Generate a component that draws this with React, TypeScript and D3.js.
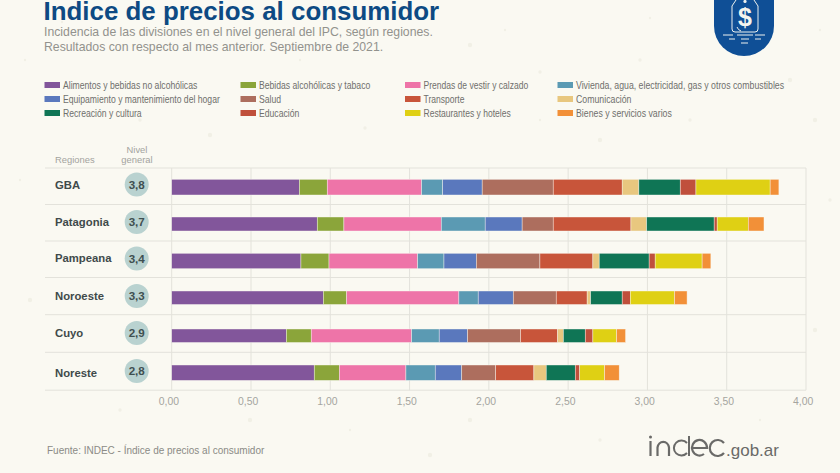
import React from "react";
import * as d3 from "d3";

const regions = ["GBA", "Patagonia", "Pampeana", "Noroeste", "Cuyo", "Noreste"];
const levels = ["3,8", "3,7", "3,4", "3,3", "2,9", "2,8"];
const categories = [
  "Alimentos y bebidas no alcohólicas", "Bebidas alcohólicas y tabaco", "Prendas de vestir y calzado", "Vivienda, agua, electricidad, gas y otros combustibles",
  "Equipamiento y mantenimiento del hogar", "Salud", "Transporte", "Comunicación",
  "Recreación y cultura", "Educación", "Restaurantes y hoteles", "Bienes y servicios varios",
];
const colors = ["#82569b", "#8ba53a", "#ee74a8", "#5b9ab3", "#5a78bd", "#ad6e5e", "#c8553a", "#e8c77f", "#0f7555", "#c0503c", "#dfd014", "#f29038"];
const barOrder = [0, 1, 2, 3, 4, 5, 6, 7, 8, 9, 10, 11];
const gba = [0.805, 0.176, 0.595, 0.133, 0.249, 0.448, 0.435, 0.105, 0.261, 0.099, 0.468, 0.055];
const patagonia = [0.918, 0.168, 0.614, 0.277, 0.233, 0.196, 0.49, 0.099, 0.426, 0.019, 0.196, 0.099];
const pampeana = [0.815, 0.177, 0.559, 0.166, 0.204, 0.401, 0.334, 0.04, 0.315, 0.038, 0.296, 0.055];
const noroeste = [0.956, 0.147, 0.708, 0.122, 0.221, 0.271, 0.195, 0.022, 0.199, 0.051, 0.279, 0.079];
const cuyo = [0.723, 0.157, 0.633, 0.174, 0.179, 0.334, 0.234, 0.036, 0.138, 0.048, 0.15, 0.056];
const noreste = [0.899, 0.158, 0.42, 0.185, 0.167, 0.214, 0.241, 0.078, 0.183, 0.028, 0.157, 0.092];
const regionValues = [gba, patagonia, pampeana, noroeste, cuyo, noreste];
const ticks = [0, 0.5, 1, 1.5, 2, 2.5, 3, 3.5, 4];
const specks = [[62,22],[140,120],[210,135],[300,60],[365,128],[470,45],[505,30],[540,72],[600,140],[650,18],[690,120],[790,80],[820,30],[830,200],[815,330],[760,420],[600,440],[470,420],[350,430],[120,410],[30,300],[20,180],[95,445],[250,420],[540,120],[640,60],[815,120],[25,60],[180,450],[430,455]];

const W = 840, H = 473;
const x = d3.scaleLinear().domain([0, 4]).range([171.7, 806]);
const rowEdges = [168, 204.5, 241, 277.5, 314.7, 352.3, 390.2];
const barTops = [179.3, 217, 253.3, 291, 329, 365];
const barHeights = [15.7, 14, 15.4, 13.5, 13.5, 15.4];
const circleY = [184.5, 222, 258.5, 296, 333, 371];
const labelY = [185, 222, 258, 296, 333, 372.7];
const sans = "'Liberation Sans', Arial, sans-serif";
const legendCols = [44.5, 240.5, 405, 557.5];
const legendScale = [0.815, 0.815, 0.805, 0.826];

const table = regionValues.map((v) => Object.fromEntries(v.map((d, i) => [String(i), d])));
const series = d3.stack<any>().keys(barOrder.map(String))(table);

export default function App() {
  return (
    <svg width={W} height={H} viewBox={`0 0 ${W} ${H}`} style={{ position: "absolute", left: 0, top: 0, background: "#faf9f2" }}>
      {specks.map(([a, b], i) => (
        <circle key={i} cx={a} cy={b} r={1.2 + (i % 3) * 0.5} fill="#f1f0e6" />
      ))}
      <text x={43.5} y={19.5} fontFamily={sans} fontWeight={700} fontSize={25.9} fill="#0d4a83">Indice de precios al consumidor</text>
      <text x={44} y={36} fontFamily={sans} fontSize={12.25} fill="#92928d">Incidencia de las divisiones en el nivel general del IPC, según regiones.</text>
      <text x={44} y={51} fontFamily={sans} fontSize={12.25} fill="#92928d">Resultados con respecto al mes anterior. Septiembre de 2021.</text>

      {/* icon */}
      <path d="M714,0 H774 V26 A30,30 0 0 1 714,26 Z" fill="#0f4f96" />
      <g fill="none" stroke="#eef1ee" strokeWidth={1}>
        <path d="M736,0 L732,6 V29 Q732,32 735,32 H755 Q758,32 758,29 V6 L754,0" />
        <path d="M723,35 H733 M737,35 H753 M755,35 H765 M729,39 H735 M741,39 H749 M755,39 H761 M741,43 H748" />
        <path d="M737,27 Q738,30 741,31" />
        <circle cx={745} cy={1.5} r={1.6} fill="#eef1ee" stroke="none" />
      </g>
      <text x={745} y={25.5} textAnchor="middle" fontFamily={sans} fontWeight={700} fontSize={25} fill="#f4f4ee">$</text>

      {/* legend */}
      {categories.map((c, i) => {
        const col = legendCols[i % 4];
        const y = 85 + Math.floor(i / 4) * 14;
        return (
          <g key={c}>
            <rect x={col} y={y - 3} width={15.5} height={6} fill={colors[i]} />
            <text transform={`translate(${col + 18.5},${y + 3.7}) scale(${legendScale[i % 4]},1)`} fontFamily={sans} fontSize={10.6} fill="#6f6f6c">{c}</text>
          </g>
        );
      })}

      {/* headers */}
      <text x={55} y={163} fontFamily={sans} fontSize={9.4} fill="#a3a39e">Regiones</text>
      <text x={137} y={153} textAnchor="middle" fontFamily={sans} fontSize={9.4} fill="#a3a39e">Nivel</text>
      <text x={137} y={163} textAnchor="middle" fontFamily={sans} fontSize={9.4} fill="#a3a39e">general</text>

      {/* grid */}
      <g stroke="#e3e2db" strokeWidth={1}>
        {rowEdges.map((y) => <line key={y} x1={45} x2={806} y1={y} y2={y} />)}
        {ticks.map((t) => <line key={t} x1={x(t)} x2={x(t)} y1={168} y2={390.2} />)}
      </g>
      {ticks.map((t) => (
        <text key={t} x={x(t) - 2.8} y={404.5} textAnchor="middle" fontFamily={sans} fontSize={10.4} fill="#a5a5a0">{t.toFixed(2).replace(".", ",")}</text>
      ))}

      {/* rows */}
      {regions.map((r, i) => (
        <g key={r}>
          <text x={55} y={labelY[i] + 4} fontFamily={sans} fontWeight={700} fontSize={11.3} fill="#3f4a4a">{r}</text>
          <circle cx={136.7} cy={circleY[i]} r={12} fill="#b9d2d0" />
          <text x={136.7} y={circleY[i] + 4.2} textAnchor="middle" fontFamily={sans} fontWeight={700} fontSize={11.6} fill="#3f4f50">{levels[i]}</text>
        </g>
      ))}

      {/* bars */}
      {series.map((s) =>
        s.map((d, i) => (
          <rect key={`${s.key}-${i}`} x={x(d[0])} y={barTops[i]} width={x(d[1]) - x(d[0])} height={barHeights[i]}
            fill={colors[+s.key]} stroke="#faf9f2" strokeOpacity={0.7} strokeWidth={0.6} />
        ))
      )}

      <text x={47} y={454} fontFamily={sans} fontSize={10} fill="#8b8b86">Fuente: INDEC - Índice de precios al consumidor</text>

      {/* logo */}
      <g fill="none" stroke="#6a6a68" strokeWidth={2.2} aria-label="indec">
        <path d="M650.5,441 V456" />
        <circle cx={650.5} cy={437} r={1.5} fill="#6a6a68" stroke="none" />
        <path d="M657.5,456 V447.5 A5.8,6.5 0 0 1 669,447.5 V456" />
        <path d="M687,443 A7.5,7.5 0 1 0 687,453 M689,436 V456" strokeWidth={2} />
        <path d="M692,448 H707 A7.5,7.8 0 1 0 704,454" />
        <path d="M724,443 A8,8 0 1 0 724,453" />
      </g>
      <text x={726} y={455.5} fontFamily={sans} fontSize={17} fill="#6a6a68">.gob.ar</text>
    </svg>
  );
}
